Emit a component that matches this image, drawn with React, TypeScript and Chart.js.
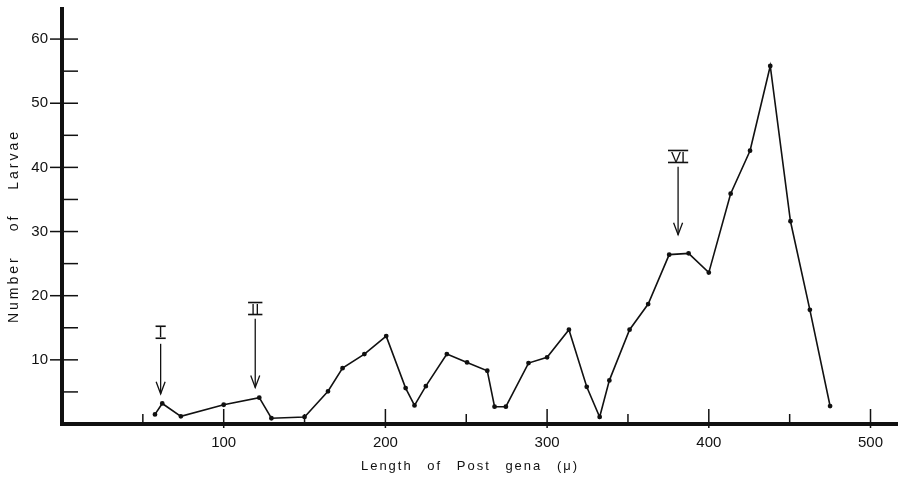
import React, { useEffect, useRef } from "react";
import { Chart, registerables } from "chart.js";

Chart.register(...registerables);

// Length of post gena (µ) and number of larvae
const lengths = [57.5, 62, 73.5, 100, 122, 129.5, 150, 164.5, 173.5, 187, 200.5, 212.5, 218, 225, 238, 250.5, 263, 267.5, 274.5, 288.5, 300, 313.5, 324.5, 332.5, 338.5, 351, 362.5, 375.5, 387.5, 400, 413.5, 425.5, 438, 450.5, 462.5, 475];
const larvae = [1.5, 3.2, 1.2, 3.0, 4.1, 0.9, 1.1, 5.1, 8.7, 10.9, 13.7, 5.6, 2.9, 5.9, 10.9, 9.6, 8.3, 2.7, 2.7, 9.5, 10.4, 14.7, 5.8, 1.1, 6.8, 14.7, 18.7, 26.4, 26.6, 23.6, 35.9, 42.6, 55.8, 31.6, 17.8, 2.8];

const xMajorTicks = [100, 200, 300, 400, 500];
const xMinorTicks = [50, 150, 250, 350, 450];
const yMajorTicks = [10, 20, 30, 40, 50, 60];
const yMinorTicks = [5, 15, 25, 35, 45, 55];

const instarLabels = ["I", "II", "VI"];
const instarX = [61, 119.5, 381];
const instarLabelY = [14.3, 18, 41.7];
const instarArrowTop = [12.5, 16.4, 40.1];
const instarArrowTip = [4.7, 5.7, 29.5];

const xTitle = "Length of Post gena (\u03bc)";
const yTitle = "Number of Larvae";

const INK = "#111";
const FONT = "'Liberation Sans', Arial, sans-serif";

const decorPlugin = {
  id: "decor",
  afterDraw(chart: any) {
    const { ctx, chartArea, scales } = chart;
    const x = scales.x;
    const y = scales.y;
    const x0 = x.getPixelForValue(0);
    const y0 = y.getPixelForValue(0);
    const line = (a: number, b: number, c: number, d: number) => {
      ctx.beginPath();
      ctx.moveTo(a, b);
      ctx.lineTo(c, d);
      ctx.stroke();
    };
    ctx.save();
    ctx.strokeStyle = INK;
    ctx.fillStyle = INK;
    ctx.lineCap = "butt";

    // axes
    ctx.lineWidth = 4;
    ctx.lineJoin = "miter";
    ctx.beginPath();
    ctx.moveTo(x0, chartArea.top);
    ctx.lineTo(x0, y0);
    ctx.lineTo(chartArea.right, y0);
    ctx.stroke();

    // tick marks
    ctx.lineWidth = 1.5;
    yMajorTicks.forEach((v) => {
      const p = y.getPixelForValue(v);
      line(x0 - 12, p, x0 + 16, p);
    });
    yMinorTicks.forEach((v) => {
      const p = y.getPixelForValue(v);
      line(x0, p, x0 + 16, p);
    });
    xMajorTicks.forEach((v) => {
      const p = x.getPixelForValue(v);
      line(p, y0 + 4, p, y0 - 15);
    });
    xMinorTicks.forEach((v) => {
      const p = x.getPixelForValue(v);
      line(p, y0, p, y0 - 10);
    });

    // instar arrows and labels
    ctx.lineWidth = 1.3;
    instarLabels.forEach((lab, i) => {
      const px = x.getPixelForValue(instarX[i]);
      const top = y.getPixelForValue(instarArrowTop[i]);
      const tip = y.getPixelForValue(instarArrowTip[i]);
      line(px, top, px, tip);
      ctx.beginPath();
      ctx.moveTo(px - 4.5, tip - 12);
      ctx.lineTo(px, tip);
      ctx.lineTo(px + 4.5, tip - 12);
      ctx.stroke();
      const ly = y.getPixelForValue(instarLabelY[i]);
      ctx.font = `15px ${FONT}`;
      ctx.textAlign = "center";
      ctx.textBaseline = "middle";
      const w = ctx.measureText(lab).width + 6;
      ctx.fillText(lab, px, ly + 1);
      ctx.lineWidth = 1.6;
      line(px - w / 2, ly - 6, px + w / 2, ly - 6);
      line(px - w / 2, ly + 6, px + w / 2, ly + 6);
      ctx.lineWidth = 1.3;
    });

    // axis titles
    ctx.font = `13px ${FONT}`;
    ctx.textAlign = "center";
    ctx.textBaseline = "middle";
    (ctx as any).letterSpacing = "2px";
    (ctx as any).wordSpacing = "9px";
    ctx.fillText(xTitle, 470, 466);
    ctx.save();
    ctx.translate(14, 226);
    ctx.rotate(-Math.PI / 2);
    ctx.font = `14px ${FONT}`;
    (ctx as any).letterSpacing = "3px";
    (ctx as any).wordSpacing = "17px";
    ctx.fillText(yTitle, 0, 0);
    ctx.restore();
    ctx.restore();
  },
};

export default function App() {
  const ref = useRef<HTMLCanvasElement | null>(null);
  useEffect(() => {
    if (!ref.current) return;
    const chart = new Chart(ref.current, {
      type: "line",
      data: {
        datasets: [
          {
            data: lengths.map((v, i) => ({ x: v, y: larvae[i] })),
            borderColor: INK,
            backgroundColor: INK,
            borderWidth: 1.6,
            pointRadius: 1.6,
            pointHoverRadius: 1.6,
            tension: 0,
          },
        ],
      },
      options: {
        responsive: false,
        animation: false,
        layout: { padding: { left: 8, top: 7, right: 7, bottom: 0 } },
        plugins: { legend: { display: false }, tooltip: { enabled: false } },
        scales: {
          x: {
            type: "linear",
            min: 0,
            max: 517,
            grid: { display: false, drawTicks: false },
            border: { display: false },
            afterFit: (s: any) => {
              s.height = 64;
              s.paddingLeft = 0;
              s.paddingRight = 0;
            },
            ticks: {
              stepSize: 100,
              includeBounds: false,
              padding: 10,
              color: INK,
              font: { family: FONT, size: 15 },
              maxRotation: 0,
              callback: (v: any) => (v > 0 && v % 100 === 0 ? String(v) : ""),
            },
          },
          y: {
            type: "linear",
            min: 0,
            max: 65,
            grid: { display: false, drawTicks: false },
            border: { display: false },
            afterFit: (s: any) => {
              s.width = 54;
              s.paddingTop = 0;
              s.paddingBottom = 0;
            },
            ticks: {
              stepSize: 10,
              includeBounds: false,
              padding: 14,
              color: INK,
              font: { family: FONT, size: 15 },
              callback: (v: any) => (v > 0 && v % 10 === 0 ? String(v) : ""),
            },
          },
        },
      },
      plugins: [decorPlugin],
    });
    return () => chart.destroy();
  }, []);
  return (
    <div style={{ position: "fixed", left: 0, top: 0, width: 905, height: 488, background: "#fff" }}>
      <canvas ref={ref} width={905} height={488} style={{ display: "block" }} />
    </div>
  );
}
